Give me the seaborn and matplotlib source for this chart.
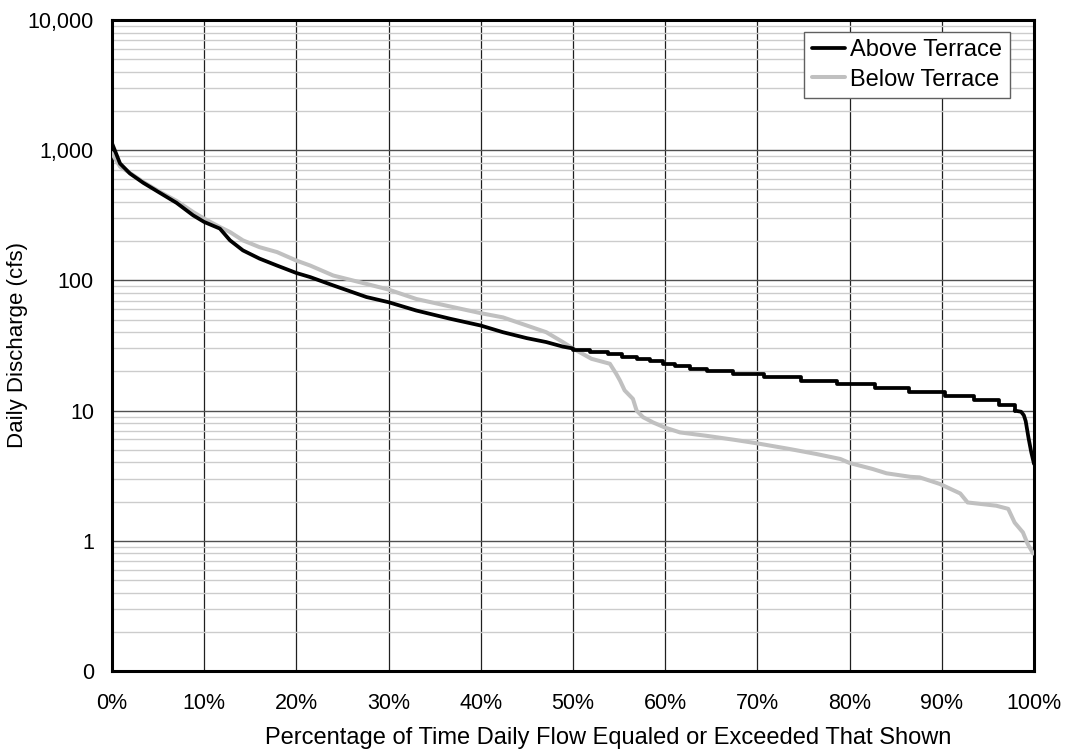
import numpy as np
import pandas as pd
import matplotlib
matplotlib.use("Agg")
import matplotlib.pyplot as plt
import matplotlib.ticker as mticker
import seaborn as sns

# -----------------------------
# Data
# -----------------------------

# Above Terrace - smooth upper part
above_pct = [0, 0.3, 0.87, 1.95, 3.4, 5.2, 7.0, 8.8, 10, 11.7, 12.8, 14.2, 16, 17.9,
             20, 21.5, 24, 27.6, 30, 33, 36.7, 40, 42.4, 45, 47.1, 48.9, 50]
above_cfs = [1130, 1000, 791, 662, 561, 470, 394, 316, 281, 250, 203, 170, 147, 130,
             114, 106, 91.5, 74.5, 68, 58.7, 50.7, 45, 40, 36, 33.6, 31, 30]

# Above Terrace - stepped middle part (integer cfs steps)
above_step_pct = [50, 51.8, 53.8, 55.3, 56.9, 58.4, 59.8, 61.1, 62.7, 64.5, 67.3, 70.7,
                  74.7, 78.6, 82.8, 86.4, 90.3, 93.5, 96.2, 97.9]
above_step_cfs = [29, 28, 27, 26, 25, 24, 23, 22, 21, 20, 19, 18,
                  17, 16, 15, 14, 13, 12, 11, 10]

# Above Terrace - tail
above_tail_pct = [97.9, 98.6, 98.9, 99.1, 99.4, 99.7, 100]
above_tail_cfs = [10, 9.8, 9.2, 8.3, 6.2, 4.8, 3.9]

# Below Terrace
below_pct = [0, 0.3, 0.9, 1.95, 3.4, 5.2, 7.0, 8.8, 10, 11.7, 12.8, 14.2, 16, 17.9,
             20, 21.5, 24, 27.6, 30, 33, 36.7, 40, 42.4, 45, 47.1, 48.9, 50, 52, 54,
             54.7, 55.1, 55.6, 56.5, 56.9, 57.6, 58.7, 60, 61.6, 64.5, 67.4, 70, 73.5,
             76.4, 79, 80, 82.5, 84, 86.6, 87.6, 89.8, 92, 92.8, 95.9, 97.2, 97.9,
             98.8, 99.3, 99.9, 100]
below_cfs = [950, 870, 745, 668, 570, 478, 408, 335, 298, 257, 235, 203, 180, 165,
             142, 130, 109, 94, 85, 72, 63, 56, 52, 45, 40, 33.6, 30, 25, 22.9,
             19.1, 17, 14.3, 12.3, 10, 8.9, 8.1, 7.4, 6.8, 6.4, 5.98, 5.6, 5.07,
             4.64, 4.25, 3.96, 3.56, 3.3, 3.1, 3.07, 2.73, 2.31, 1.97, 1.86, 1.76, 1.38,
             1.16, 0.95, 0.8, 0.8]

y_ticks = [0.1, 1, 10, 100, 1000, 10000]
y_labels = ["0", "1", "10", "100", "1,000", "10,000"]
x_ticks = list(range(0, 101, 10))

# -----------------------------
# Style
# -----------------------------

sns.set_style("white")
plt.rcParams['font.family'] = ['Liberation Sans', 'DejaVu Sans']
plt.rcParams['text.color'] = 'black'
plt.rcParams['axes.labelcolor'] = 'black'
plt.rcParams['xtick.labelcolor'] = 'black'
plt.rcParams['ytick.labelcolor'] = 'black'

fig = plt.figure(figsize=(10.65, 7.51), dpi=100)
ax = fig.add_axes([112 / 1065, 1 - 671 / 751, (1034 - 112) / 1065, (671 - 20) / 751])

df_above = pd.DataFrame({"pct": above_pct, "cfs": above_cfs})
df_above_step = pd.DataFrame({"pct": above_step_pct, "cfs": above_step_cfs})
df_above_tail = pd.DataFrame({"pct": above_tail_pct, "cfs": above_tail_cfs})
df_below = pd.DataFrame({"pct": below_pct, "cfs": below_cfs})

sns.lineplot(data=df_below, x="pct", y="cfs", ax=ax, color="#c0c0c0", lw=2.9,
             label="Below Terrace", zorder=3)
sns.lineplot(data=df_above, x="pct", y="cfs", ax=ax, color="black", lw=2.7,
             label="Above Terrace", zorder=4)
sns.lineplot(data=df_above_step, x="pct", y="cfs", ax=ax, color="black", lw=2.7,
             drawstyle="steps-post", zorder=4)
sns.lineplot(data=df_above_tail, x="pct", y="cfs", ax=ax, color="black", lw=2.7,
             zorder=4)

ax.set_yscale("log")
ax.set_ylim(0.1, 10000)
ax.set_xlim(0, 100)

ax.set_yticks(y_ticks)
ax.set_yticklabels(y_labels)
ax.yaxis.set_minor_locator(mticker.LogLocator(base=10, subs=np.arange(2, 10)))
ax.yaxis.set_minor_formatter(mticker.NullFormatter())
ax.set_xticks(x_ticks)
ax.set_xticklabels([f"{t}%" for t in x_ticks])

ax.grid(True, which="minor", axis="y", color="#cccccc", lw=1)
ax.grid(True, which="major", axis="y", color="#505050", lw=1)
ax.grid(True, which="major", axis="x", color="#202020", lw=0.9)
ax.set_axisbelow(True)

ax.tick_params(axis="both", which="major", direction="out", length=5, width=1,
               color="#404040", labelcolor="black", labelsize=15.5)
ax.tick_params(axis="x", which="major", pad=11)
ax.tick_params(axis="y", which="major", pad=8)
ax.tick_params(axis="y", which="minor", length=0)

for s in ax.spines.values():
    s.set_color("black")
    s.set_linewidth(2.2)

ax.set_xlabel("Percentage of Time Daily Flow Equaled or Exceeded That Shown",
              fontsize=17, color="black")
ax.xaxis.set_label_coords(0.538, -0.086)
ax.set_ylabel("Daily Discharge (cfs)", fontsize=16, color="black")
ax.yaxis.set_label_coords(-0.091, 0.5)

handles, labels = ax.get_legend_handles_labels()
order = [labels.index("Above Terrace"), labels.index("Below Terrace")]
leg = ax.legend([handles[i] for i in order], [labels[i] for i in order],
                loc="upper right", bbox_to_anchor=(0.9735, 0.981), fontsize=17,
                frameon=True, fancybox=False, framealpha=1, edgecolor="#606060",
                handlelength=1.4, handletextpad=0.25, borderpad=0.3,
                labelspacing=0.3, borderaxespad=0)
leg.get_frame().set_linewidth(1)
for t in leg.get_texts():
    t.set_color("black")

fig.savefig("out.png", dpi=100)
